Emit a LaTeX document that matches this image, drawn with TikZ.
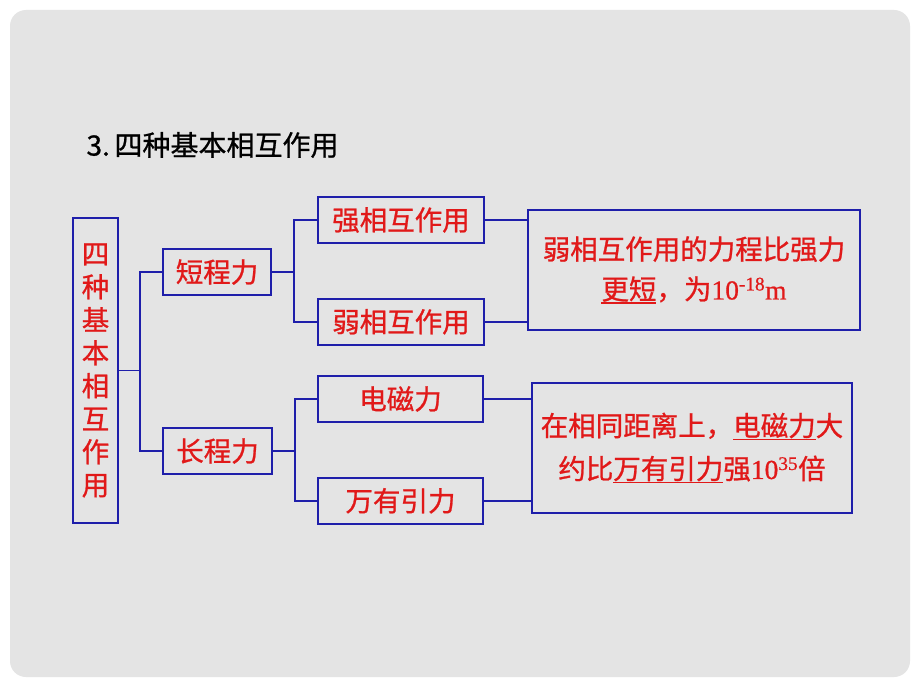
\documentclass[tikz,border=0pt]{standalone}
\usepackage{fontspec}
\setmainfont{Liberation Serif}[FakeBold=0.6]
\newfontfamily\cjk{Noto Sans CJK SC}[FakeBold=0.9]
\usetikzlibrary{positioning}
\definecolor{slidegray}{RGB}{228,228,228}
\definecolor{boxblue}{RGB}{30,30,170}
\definecolor{textred}{RGB}{225,25,25}
\newcommand{\markline}[1]{\leavevmode\vtop{\hbox{#1}\kern0.5pt\hrule height 1.5pt}}

\begin{document}
\begin{tikzpicture}[
		x=1pt,y=-1pt,
		node distance=54pt,
		box/.style={
			draw=boxblue,
			line width=1.8pt,
			rectangle,
			inner sep=0pt,
			text=textred,
			font=\cjk\fontsize{27.5}{33}\selectfont
		},
		link/.style={draw=boxblue, line width=1.8pt}
		]
		% Slide background
		\fill[white] (0,0) rectangle (920,690);
		\fill[slidegray, rounded corners=16pt] (10,10) rectangle (910,677);
		
		% Title
		\node[anchor=west, font=\cjk\fontsize{28}{33}\selectfont] (title) at (83,145) {3.\,四种基本相互作用};
		
		% Root and the two ranges
		\node[box, minimum width=45pt, minimum height=305pt, align=center] (root) at (95.5,370.5)
		{四\\种\\基\\本\\相\\互\\作\\用};
		\node[box, minimum width=108pt, minimum height=46pt] (short) at (217,272) {短程力};
		\node[box, minimum width=109pt, minimum height=46pt] (long) at (217.5,451) {长程力};
		
		% The four forces
		\node[box, minimum width=166pt, minimum height=46pt] (strong) at (401,220) {强相互作用};
		\node[box, minimum width=166pt, minimum height=46pt, below=of strong] (weak) {弱相互作用};
		\node[box, minimum width=165pt, minimum height=46pt] (em) at (400.5,399) {电磁力};
		\node[box, minimum width=165pt, minimum height=46pt, below=54pt of em] (grav) {万有引力};
		
		% Notes
		\node[box, minimum width=332pt, minimum height=120pt, align=center,
		font=\cjk\fontsize{27.5}{40}\selectfont] (noteA) at (694,270)
		{弱相互作用的力程比强力\\\markline{更短}，为{\rmfamily 10\textsuperscript{-18}m}};
		\node[box, minimum width=320pt, minimum height=130pt, align=center,
		font=\cjk\fontsize{27.5}{43}\selectfont] (noteB) at (692,448)
		{在相同距离上，\markline{电磁力}大\\约比\markline{万有引力}强{\rmfamily 10\textsuperscript{35}}倍};
		
		% Brackets
		\coordinate (busA) at ([xshift=-22pt]short.west);
		\draw[link] (short.west) -- (busA) |- (long.west);
		\draw[link] (root.east) -- (root.east -| busA);
		
		\coordinate (busB) at ([xshift=-23pt]strong.west);
		\draw[link] (strong.west) -- (busB) |- (weak.west);
		\draw[link] (short.east) -- (short.east -| busB);
		
		\coordinate (busC) at ([xshift=-22pt]em.west);
		\draw[link] (em.west) -- (busC) |- (grav.west);
		\draw[link] (long.east) -- (long.east -| busC);
		
		% Links to the notes
		\draw[link] (strong.east) -- (strong.east -| noteA.west);
		\draw[link] (weak.east) -- (weak.east -| noteA.west);
		\draw[link] (em.east) -- (em.east -| noteB.west);
		\draw[link] (grav.east) -- (grav.east -| noteB.west);
	\end{tikzpicture}
\end{document}
